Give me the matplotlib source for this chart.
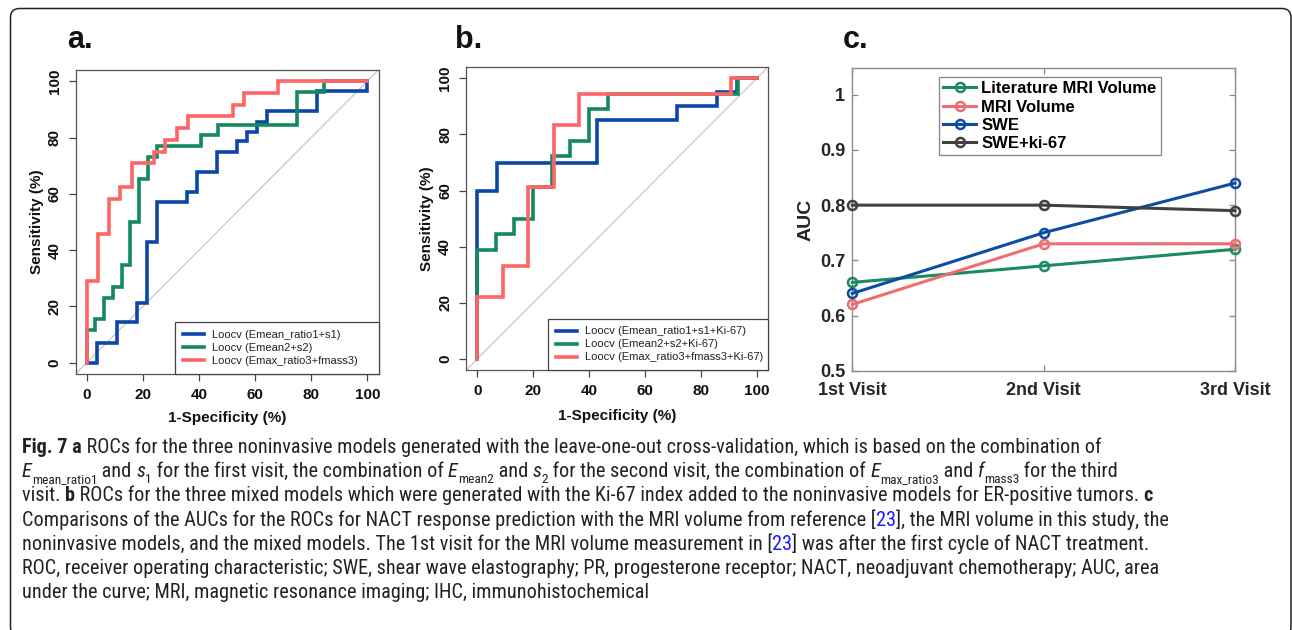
import matplotlib
matplotlib.use('Agg')
import matplotlib.pyplot as plt
from matplotlib import font_manager
from matplotlib.patches import FancyBboxPatch
from matplotlib.transforms import IdentityTransform

# ---------------- data ----------------
# panel a: leave-one-out ROC curves, step points (1-specificity %, sensitivity %)
a_blue_fpr = [0, 3.6, 10.7, 17.9, 21.4, 25, 35.7, 39.3, 46.4, 53.6, 57.1, 60.7, 64.3, 82.1, 100, 100]
a_blue_tpr = [0, 0, 7.1, 14.3, 21.4, 42.9, 57.1, 60.7, 67.9, 75, 78.6, 82.1, 85.7, 89.3, 96.4, 100]
a_green_fpr = [0, 3.1, 6.25, 9.4, 12.5, 15.6, 18.75, 21.9, 25, 40.6, 46.9, 75, 84.4, 100]
a_green_tpr = [0, 11.5, 15.4, 23.1, 26.9, 34.6, 50, 65.4, 73.1, 76.9, 80.8, 84.6, 96.2, 100]
a_red_fpr = [0, 4, 8, 12, 16, 24, 28, 32, 36, 52, 56, 68, 100]
a_red_tpr = [0, 29.2, 45.8, 58.3, 62.5, 70.8, 75, 79.2, 83.3, 87.5, 91.7, 95.8, 100]
a_labels = ['Loocv (Emean_ratio1+s1)', 'Loocv (Emean2+s2)', 'Loocv (Emax_ratio3+fmass3)']

# panel b: mixed models with Ki-67
b_blue_fpr = [0, 7.1, 42.9, 71.4, 85.7, 92.9, 100]
b_blue_tpr = [0, 60, 70, 85, 90, 95, 100]
b_green_fpr = [0, 6.7, 13.3, 20, 26.7, 33.3, 40, 46.7, 93.3, 100]
b_green_tpr = [0, 38.9, 44.4, 50, 61.1, 72.2, 77.8, 88.9, 94.4, 100]
b_red_fpr = [0, 9.1, 18.2, 27.3, 36.4, 90.9, 100]
b_red_tpr = [0, 22.2, 33.3, 61.1, 83.3, 94.4, 100]
b_labels = ['Loocv (Emean_ratio1+s1+Ki-67)', 'Loocv (Emean2+s2+Ki-67)',
            'Loocv (Emax_ratio3+fmass3+Ki-67)']

# panel c: AUC per visit
visits = ['1st Visit', '2nd Visit', '3rd Visit']
auc_lit_mri = [0.66, 0.69, 0.72]
auc_mri = [0.62, 0.73, 0.73]
auc_swe = [0.64, 0.75, 0.84]
auc_swe_ki67 = [0.80, 0.80, 0.79]
c_labels = ['Literature MRI Volume', 'MRI Volume', 'SWE', 'SWE+ki-67']

roc_ticks = [0, 20, 40, 60, 80, 100]
auc_ticks = [0.5, 0.6, 0.7, 0.8, 0.9, 1.0]
auc_ticklabels = ['0.5', '0.6', '0.7', '0.8', '0.9', '1']

ROC_COLORS = ['#0a46ab', '#138a5c', '#ff6466']
C_COLORS = ['#1b8a5f', '#ee6d70', '#0b4da3', '#404040']

W, H = 1292, 630
plt.rcParams['font.family'] = ['Liberation Sans', 'DejaVu Sans']
fig = plt.figure(figsize=(W / 100, H / 100), dpi=100)


def px_axes(left, top, right, bottom):
    return fig.add_axes([left / W, 1 - bottom / H, (right - left) / W, (bottom - top) / H])


def roc_panel(ax, curves, labels, leg_x0, ylab_x, xlab_y):
    ax.set_xlim(-4, 104)
    ax.set_ylim(-4, 104)
    ax.axline((0, 0), (100, 100), color='#c8c8c8', lw=0.9, zorder=1)
    for (fpr, tpr), col, lab in zip(curves, ROC_COLORS, labels):
        ax.step(fpr, tpr, where='pre', color=col, lw=2.6, label=lab,
                solid_joinstyle='miter', zorder=3)
    ax.set_xticks(roc_ticks)
    ax.set_yticks(roc_ticks)
    ax.tick_params(direction='out', length=5, width=0.9, color='#444444',
                   labelsize=11, pad=5, labelcolor='#111111')
    for lab in ax.get_xticklabels():
        lab.set_fontweight('bold')
    for lab in ax.get_yticklabels():
        lab.set_fontweight('bold')
        lab.set_rotation(90)
        lab.set_va('center')
    for sp in ax.spines.values():
        sp.set_color('#555555')
        sp.set_linewidth(0.9)
    ax.set_xlabel('1-Specificity (%)', fontsize=11, fontweight='bold', color='#111111')
    ax.set_ylabel('Sensitivity (%)', fontsize=11, fontweight='bold', color='#111111')
    ax.xaxis.set_label_coords(0.5, xlab_y)
    ax.xaxis.label.set_va('center')
    ax.yaxis.set_label_coords(ylab_x, 0.5)
    ax.yaxis.label.set_va('center')
    leg = ax.legend(loc='lower left', bbox_to_anchor=(leg_x0, 0, 1 - leg_x0, 0.2),
                    mode='expand', borderaxespad=0, fancybox=False, edgecolor='#444444',
                    fontsize=8, handlelength=1.9, handletextpad=0.7, labelspacing=0.27,
                    borderpad=0.7, framealpha=1)
    leg.get_frame().set_linewidth(0.9)
    for t in leg.get_texts():
        t.set_color('#222222')


# ---- panel a ----
ax_a = px_axes(75.5, 70, 378.5, 374)
roc_panel(ax_a, [(a_blue_fpr, a_blue_tpr), (a_green_fpr, a_green_tpr), (a_red_fpr, a_red_tpr)],
          a_labels, 0.328, -0.128, -0.145)

# ---- panel b ----
ax_b = px_axes(466.1, 67.1, 767.9, 370.2)
roc_panel(ax_b, [(b_blue_fpr, b_blue_tpr), (b_green_fpr, b_green_tpr), (b_red_fpr, b_red_tpr)],
          b_labels, 0.271, -0.1305, -0.152)

# ---- panel c ----
ax_c = px_axes(852.3, 68.3, 1235, 370.7)
xpos = list(range(len(visits)))
for vals, col, lab in zip([auc_lit_mri, auc_mri, auc_swe, auc_swe_ki67], C_COLORS, c_labels):
    ax_c.plot(xpos, vals, '-o', color=col, lw=2.2, ms=6.5, mfc='none', mew=1.8,
              label=lab, clip_on=False, zorder=3)
ax_c.set_xlim(0, len(visits) - 1)
ax_c.set_ylim(0.5, 1.048)
ax_c.set_xticks(xpos)
ax_c.set_xticklabels(visits)
ax_c.set_yticks(auc_ticks)
ax_c.set_yticklabels(auc_ticklabels)
ax_c.tick_params(direction='in', length=4, width=0.9, color='#8a8a8a', top=True, right=True,
                 labelsize=13, labelcolor='#262626')
ax_c.tick_params(axis='x', pad=8)
ax_c.tick_params(axis='y', pad=5)
for lab in ax_c.get_xticklabels() + ax_c.get_yticklabels():
    lab.set_fontweight('bold')
for sp in ax_c.spines.values():
    sp.set_color('#8a8a8a')
    sp.set_linewidth(1.0)
ax_c.set_ylabel('AUC', fontsize=14, fontweight='bold', color='#262626')
ax_c.yaxis.set_label_coords(-0.121, 0.5)
ax_c.yaxis.label.set_va('center')
leg_c = ax_c.legend(loc='upper left', bbox_to_anchor=(0.2265, 0.971), borderaxespad=0,
                    fancybox=False, edgecolor='#8a8a8a', prop=dict(weight='bold', size=12),
                    handlelength=2.0, handletextpad=0.3, labelspacing=0.2, borderpad=0.25,
                    framealpha=1)
leg_c.get_frame().set_linewidth(1.0)

# panel letters
for x, s in [(67, 'a.'), (455, 'b.'), (843, 'c.')]:
    fig.text(x, H - 48, s, transform=IdentityTransform(), fontsize=22, fontweight='bold',
             va='baseline', ha='left', color='#111111')

# outer frame (bottom edge falls just outside the picture)
frame = FancyBboxPatch((10.5, -6.0), 1280.5, H - 2.5, boxstyle='round,pad=0,rounding_size=9',
                       transform=IdentityTransform(), fill=False, ec='#222222', lw=1.1,
                       clip_on=False)
fig.patches.append(frame)

# ---------------- caption ----------------
# a narrow family with a regular upright face, if one is installed
regular = {f.name for f in font_manager.fontManager.ttflist
           if f.weight in (400, 'normal', 'regular') and f.style == 'normal'}
cap_font = None
for n in ['Open Sans SemiCondensed', 'Noto Sans SemiCondensed', 'Liberation Sans Narrow',
          'Open Sans Condensed', 'Noto Sans Condensed', 'Roboto Condensed']:
    if n in regular:
        cap_font = n
        break
if cap_font is None:
    cap_font = 'Open Sans' if 'Open Sans' in regular else 'DejaVu Sans'

renderer = fig.canvas.get_renderer()
CAP_COLOR = '#222222'
LINK = '#1a1aff'

R = {}
B = {'weight': 'bold'}
I = {'style': 'italic'}
S = {'sub': True}
L = {'color': LINK}

caption = [
    [('Fig. 7 a', B), (' ROCs for the three noninvasive models generated with the leave-one-out '
                       'cross-validation, which is based on the combination of', R)],
    [('E', I), ('mean_ratio1', S), (' and ', R), ('s', I), ('1', S),
     (' for the first visit, the combination of ', R), ('E', I), ('mean2', S), (' and ', R),
     ('s', I), ('2', S), (' for the second visit, the combination of ', R), ('E', I),
     ('max_ratio3', S), (' and ', R), ('f', I), ('mass3', S), (' for the third', R)],
    [('visit. ', R), ('b', B), (' ROCs for the three mixed models which were generated with the '
                                'Ki-67 index added to the noninvasive models for ER-positive tumors. ', R),
     ('c', B)],
    [('Comparisons of the AUCs for the ROCs for NACT response prediction with the MRI volume from '
      'reference [', R), ('23', L), ('], the MRI volume in this study, the', R)],
    [('noninvasive models, and the mixed models. The 1st visit for the MRI volume measurement in [', R),
     ('23', L), ('] was after the first cycle of NACT treatment.', R)],
    [('ROC, receiver operating characteristic; SWE, shear wave elastography; PR, progesterone '
      'receptor; NACT, neoadjuvant chemotherapy; AUC, area', R)],
    [('under the curve; MRI, magnetic resonance imaging; IHC, immunohistochemical', R)],
]


def seg_kw(st, size):
    return dict(family=cap_font, fontsize=size * (0.66 if st.get('sub') else 1),
                fontweight=st.get('weight', 'normal'), fontstyle=st.get('style', 'normal'),
                color=st.get('color', CAP_COLOR))


def seg_width(s, kw):
    t1 = fig.text(0, 0, 'I' + s + 'I', transform=IdentityTransform(), **kw)
    t2 = fig.text(0, 0, 'II', transform=IdentityTransform(), **kw)
    w = t1.get_window_extent(renderer).width - t2.get_window_extent(renderer).width
    t1.remove()
    t2.remove()
    return w


# fit font size so the first line spans the same width as the original
w10 = sum(seg_width(s, seg_kw(st, 10)) for s, st in caption[0])
cap_size = 10 * 1073 / w10

x0, y0, dy = 22, 453, 24.2
for i, line in enumerate(caption):
    x = x0
    base = H - (y0 + i * dy)
    for s, st in line:
        kw = seg_kw(st, cap_size)
        off = -0.3 * cap_size * 100 / 72 if st.get('sub') else 0
        fig.text(x, base + off, s, transform=IdentityTransform(), va='baseline', ha='left', **kw)
        x += seg_width(s, kw)

fig.savefig('out.png', dpi=100)
